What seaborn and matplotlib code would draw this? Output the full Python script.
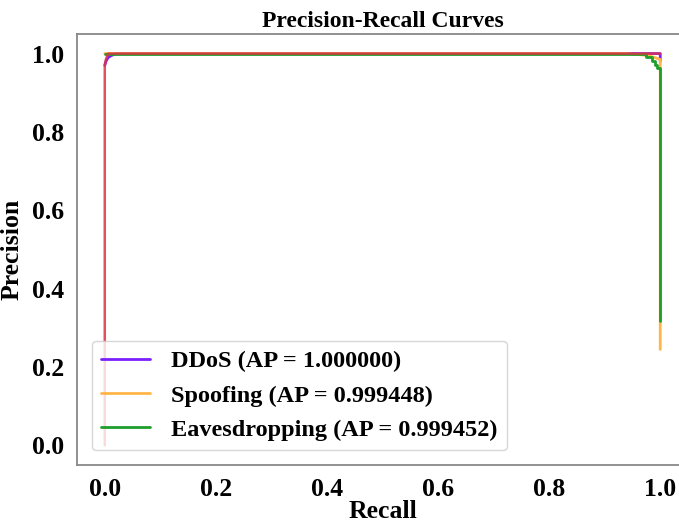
import matplotlib
matplotlib.use("Agg")
import matplotlib.pyplot as plt
import seaborn as sns
import pandas as pd

# ---- data ----
ddos_recall = [0.0, 0.002, 0.006, 0.012, 0.02, 1.0, 1.0]
ddos_precision = [0.97, 0.98, 0.99, 0.995, 1.0, 1.0, 0.98]

spoof_recall = [0.0, 0.94, 0.95, 0.965, 0.978, 0.99, 1.0, 1.0]
spoof_precision = [1.0, 1.0, 0.998, 0.997, 0.995, 0.99, 0.985, 0.245]

eaves_recall = [0.0, 0.975, 0.975, 0.985, 0.985, 0.99, 0.99, 0.994, 0.994, 1.0, 1.0]
eaves_precision = [1.0, 1.0, 0.992, 0.992, 0.98, 0.98, 0.97, 0.97, 0.962, 0.962, 0.317]

other_recall = [0.0, 0.0, 0.002, 0.006, 1.0]
other_precision = [0.0, 0.97, 0.985, 1.0, 1.0]

labels = ["DDoS (AP = 1.000000)", "Spoofing (AP = 0.999448)", "Eavesdropping (AP = 0.999452)"]
colors = ["#7b1fff", "#ffb547", "#1f9e2a"]
xticks = [0.0, 0.2, 0.4, 0.6, 0.8, 1.0]
yticks = [0.0, 0.2, 0.4, 0.6, 0.8, 1.0]

sns.set_style("white")
plt.rcParams["font.family"] = ["Liberation Serif", "DejaVu Serif"]
plt.rcParams["font.weight"] = "bold"
plt.rcParams["text.color"] = "black"
plt.rcParams["axes.labelcolor"] = "black"
plt.rcParams["xtick.color"] = "black"
plt.rcParams["ytick.color"] = "black"

W, H = 679, 526
fig = plt.figure(figsize=(W / 100, H / 100), dpi=100)
ax = fig.add_axes([77 / W, 61 / H, 611 / W, 431 / H])

curves = [
    (ddos_recall, ddos_precision, colors[0], labels[0]),
    (spoof_recall, spoof_precision, colors[1], labels[1]),
    (eaves_recall, eaves_precision, colors[2], labels[2]),
]
for r, p, c, lab in curves:
    df = pd.DataFrame({"Recall": r, "Precision": p})
    sns.lineplot(data=df, x="Recall", y="Precision", sort=False, estimator=None,
                 color=c, lw=2.0, label=lab, ax=ax)

df = pd.DataFrame({"Recall": other_recall, "Precision": other_precision})
sns.lineplot(data=df, x="Recall", y="Precision", sort=False, estimator=None,
             color="#dd3344", lw=1.8, alpha=0.85, label="_nolegend_", ax=ax)

ax.set_xlim(-0.05, 1.05)
ax.set_ylim(-0.05, 1.05)
ax.set_xticks(xticks)
ax.set_yticks(yticks)
ax.set_xticklabels([f"{v:.1f}" for v in xticks], fontsize=18.5, fontweight="bold")
ax.set_yticklabels([f"{v:.1f}" for v in yticks], fontsize=18.5, fontweight="bold")
ax.tick_params(axis="both", length=4, width=1, color="#777777", pad=5)
for s in ax.spines.values():
    s.set_color("#888888")
    s.set_linewidth(1.3)

ax.set_xlabel("Recall", fontsize=18.5, fontweight="bold", labelpad=0)
ax.set_ylabel("Precision", fontsize=18.5, fontweight="bold", labelpad=6)
ax.set_title("Precision-Recall Curves", fontsize=17, fontweight="bold", pad=5)

leg = ax.legend(loc="lower left", framealpha=0.8, fancybox=True,
                handlelength=2.0, handletextpad=0.85, borderaxespad=0.6,
                labelspacing=0.5, prop={"weight": "bold", "size": 17.5})

fig.savefig("out.png", dpi=100)
